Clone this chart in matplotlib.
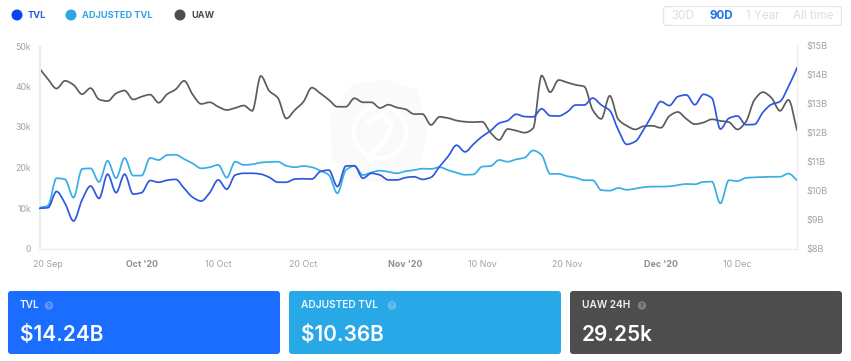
import matplotlib
matplotlib.use("Agg")
import matplotlib.pyplot as plt
import numpy as np
import pandas as pd
from matplotlib.patches import FancyBboxPatch, Circle, Polygon
from matplotlib.path import Path
from matplotlib.patheffects import AbstractPathEffect

plt.rcParams['font.family'] = ['Inter', 'DejaVu Sans']

uaw_k = [44.5,41.8,39.5,41.4,40.4,38.1,39.6,36.8,36.4,38.3,39.0,36.8,37.5,38.0,36.0,38.1,39.3,41.4,38.0,35.7,36.1,35.0,
         34.2,34.7,35.3,34.0,42.6,38.9,37.2,32.1,34.2,36.2,39.7,38.3,36.7,35.0,35.0,37.1,36.1,36.1,34.7,35.5,34.8,34.4,
         33.2,33.2,30.5,32.5,32.2,31.6,31.3,31.2,31.3,28.6,26.8,29.5,29.1,28.6,29.7,42.7,38.6,41.6,41.0,40.4,40.0,34.2,32.0,
         37.7,31.9,30.3,29.4,30.2,30.3,29.8,32.7,33.7,32.0,30.7,31.1,31.9,31.5,31.2,29.4,31.3,36.7,38.6,37.2,34.0,36.7,29.25]
tvl_b = [9.39,9.41,9.97,9.56,8.95,9.68,10.16,9.73,10.57,9.93,10.57,9.88,9.93,10.35,10.29,10.36,10.39,10.08,9.77,9.64,9.93,10.37,
         10.05,10.54,10.60,10.60,10.57,10.46,10.29,10.29,10.40,10.41,10.40,10.66,10.71,10.14,10.85,10.86,10.43,10.60,10.54,10.37,10.37,10.45,
         10.48,10.39,10.46,10.83,11.18,11.57,11.34,11.61,11.87,12.07,12.33,12.42,12.64,12.56,12.55,12.83,12.59,12.58,12.72,12.96,12.96,13.20,12.96,
         12.77,12.10,11.60,11.70,12.12,12.62,13.08,12.94,13.25,13.31,12.97,13.33,13.20,12.13,12.50,12.58,12.28,12.29,12.71,12.98,13.08,13.60,14.24]
adj_b = [9.41,9.48,10.43,10.39,9.76,10.75,10.77,10.30,11.03,10.43,11.13,10.52,10.52,11.13,11.06,11.23,11.24,11.09,10.94,10.77,10.81,10.89,
         10.45,11.0,10.89,10.91,10.97,10.99,11.0,10.86,10.81,10.85,10.81,10.69,10.54,9.91,10.71,10.85,10.54,10.63,10.69,10.65,10.60,10.67,
         10.71,10.76,10.75,10.81,10.71,10.62,10.55,10.56,10.83,10.85,11.06,11.0,11.08,11.14,11.39,11.23,10.58,10.58,10.50,10.45,10.36,10.36,10.02,
         10.0,10.09,10.03,10.07,10.12,10.14,10.14,10.15,10.19,10.23,10.22,10.30,10.31,9.56,10.36,10.33,10.44,10.46,10.47,10.48,10.48,10.59,10.36]
dates = pd.date_range("2020-09-19", periods=len(tvl_b), freq="D")

left_ticks = [0, 10, 20, 30, 40, 50]
left_labels = ["0", "10k", "20k", "30k", "40k", "50k"]
right_ticks = [8, 9, 10, 11, 12, 13, 14, 15]
right_labels = ["$8B", "$9B", "$10B", "$11B", "$12B", "$13B", "$14B", "$15B"]
x_ticks = ["2020-09-20", "2020-10-01", "2020-10-10", "2020-10-20", "2020-11-01", "2020-11-10", "2020-11-20", "2020-12-01", "2020-12-10"]
x_labels = ["20 Sep", "Oct '20", "10 Oct", "20 Oct", "Nov '20", "10 Nov", "20 Nov", "Dec '20", "10 Dec"]

legend_names = ["TVL", "ADJUSTED TVL", "UAW"]
card_titles = ["TVL", "ADJUSTED TVL", "UAW 24H"]
card_values = ["$14.24B", "$10.36B", "29.25k"]
ranges = ["30D", "90D", "1 Year", "All time"]


class MonotoneCurve(AbstractPathEffect):
    """Renders a line's own vertices as a monotone cubic curve, as the source chart does."""
    def draw_path(self, renderer, gc, tpath, affine, rgbFace=None):
        p = affine.transform(tpath.vertices)
        dx = np.diff(p[:, 0])
        s = np.diff(p[:, 1]) / dx
        m = np.zeros(len(p))
        m[0], m[-1] = s[0], s[-1]
        same = s[:-1] * s[1:] > 0
        m[1:-1][same] = (2 * s[:-1] * s[1:] / (s[:-1] + s[1:]))[same]
        verts = [p[0]]
        codes = [Path.MOVETO]
        for i in range(len(p) - 1):
            h = dx[i] / 3
            verts += [(p[i, 0] + h, p[i, 1] + m[i] * h),
                      (p[i + 1, 0] - h, p[i + 1, 1] - m[i + 1] * h),
                      p[i + 1]]
            codes += [Path.CURVE4] * 3
        renderer.draw_path(gc, Path(np.array(verts), codes),
                           matplotlib.transforms.IdentityTransform(), None)


C_TVL, C_ADJ, C_UAW = "#2f58e0", "#38ade6", "#5c5c5c"
W, H = 851, 361
fig = plt.figure(figsize=(W/100, H/100), dpi=100, facecolor="white")

# page layer in pixel coordinates
bg = fig.add_axes([0, 0, 1, 1], zorder=0)
bg.set_xlim(0, W); bg.set_ylim(H, 0); bg.axis("off")

# watermark
bg.add_patch(Polygon([(352,84),(385,80),(418,90),(427,130),(420,165),(395,183),(355,180),(332,158),(330,115)],
                     closed=True, fc="#fafafa", ec="none", joinstyle="round"))
bg.add_patch(Circle((380,132), 26, fc="none", ec="white", lw=3))
bg.plot([368,382,392,384,368,372], [122,114,126,142,158,164], color="white", lw=3.5, solid_capstyle="round")

# legend
for cx, tx, col, tcol, name in zip([17, 71, 180], [28, 82, 191],
                                   ["#0a45f5", "#2ea6e6", "#4d4d4d"], ["#2f58e0", "#2ea6e6", "#4d4d4d"], legend_names):
    bg.add_patch(Circle((cx, 15), 5.5, fc=col, ec="none"))
    bg.text(tx, 15.5, name, color=tcol, fontsize=6.6, fontweight="bold", va="center", ha="left")

# range selector
bg.add_patch(FancyBboxPatch((663.5, 6.5), 178, 19, boxstyle="round,pad=0,rounding_size=3",
                            fc="white", ec="#e6e6e6", lw=0.9))
for cx, name in zip([683, 721, 763, 813], ranges):
    active = name == "90D"
    bg.text(cx, 16, name, ha="center", va="center", fontsize=8.4,
            color="#1f74e8" if active else "#dedede", fontweight="bold" if active else "normal")

# cards
for x0, col, qc, title, val, qx in zip([8, 289, 570], ["#1a6dff", "#29a8e8", "#4d4d4d"],
                                       ["#5f97f7", "#68bfec", "#808080"],
                                       card_titles, card_values, [49, 392, 642]):
    bg.add_patch(FancyBboxPatch((x0, 291), 272, 63, boxstyle="round,pad=0,rounding_size=3", fc=col, ec="none"))
    bg.text(x0+12, 305.5, title, color="white", fontsize=7.3, fontweight="semibold", va="center", ha="left", alpha=0.92)
    bg.text(x0+12, 335, val, color="white", fontsize=15, fontweight="semibold", va="center", ha="left")
    bg.add_patch(Circle((qx, 305.5), 4.2, fc=qc, ec="none"))
    bg.text(qx, 305.5, "?", color=col, fontsize=5, fontweight="bold", ha="center", va="center")

# chart
ax = fig.add_axes([39.5/W, 1-248.5/H, (797-39.5)/W, (248.5-46)/H], zorder=1)
ax.patch.set_visible(False)
ax2 = ax.twinx()
ax2.patch.set_visible(False)

curve = [MonotoneCurve()]
ax.plot(dates, uaw_k, color=C_UAW, lw=1.25, solid_joinstyle="round", zorder=2, path_effects=curve)
ax2.plot(dates, adj_b, color=C_ADJ, lw=1.25, solid_joinstyle="round", zorder=2, path_effects=curve)
ax2.plot(dates, tvl_b, color=C_TVL, lw=1.25, solid_joinstyle="round", zorder=3, path_effects=curve)

ax.set_xlim(dates[0], dates[-1])
ax.set_ylim(0, 50)
ax2.set_ylim(8, 15)
ax.set_yticks(left_ticks, left_labels)
ax2.set_yticks(right_ticks, right_labels)
ax.set_xticks(pd.to_datetime(x_ticks), x_labels)
ax.tick_params(axis="y", length=0, pad=6, labelsize=6.3, labelcolor="#a3a3a3")
ax2.tick_params(axis="y", length=0, pad=7, labelsize=6.6, labelcolor="#a3a3a3")
ax.tick_params(axis="x", length=0, pad=8.5, labelsize=6.4, labelcolor="#a3a3a3")
for lab in ax.get_xticklabels():
    if "'" in lab.get_text():
        lab.set_fontweight("bold")
        lab.set_color("#8f8f8f")
for a in (ax, ax2):
    a.spines["top"].set_visible(False)
    for s in ("left", "right", "bottom"):
        a.spines[s].set_color("#ececec")
        a.spines[s].set_linewidth(0.8)

fig.savefig("out.png", dpi=100)
